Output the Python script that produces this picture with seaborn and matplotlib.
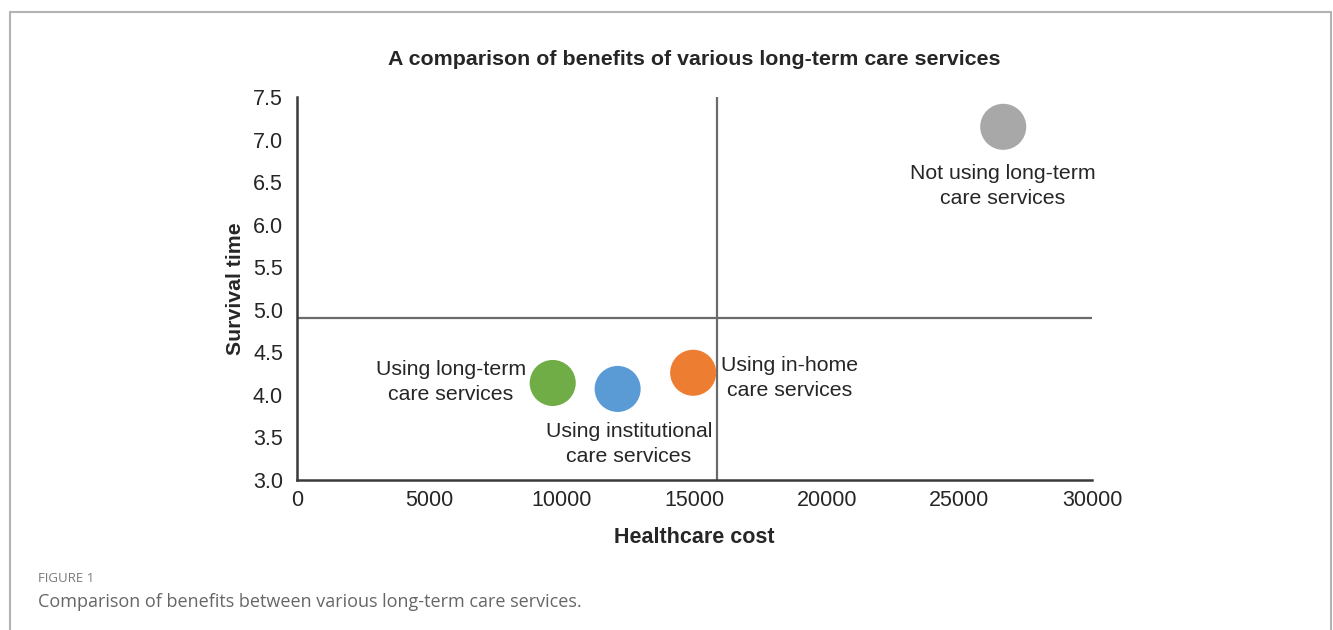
import matplotlib
matplotlib.use("Agg")
import matplotlib.pyplot as plt
import seaborn as sns
import pandas as pd
from matplotlib.lines import Line2D

# ---- data ----
services = ["Not using long-term care services",
            "Using long-term care services",
            "Using institutional care services",
            "Using in-home care services"]
healthcare_cost = [26650, 9650, 12100, 14950]
survival_time = [7.15, 4.14, 4.07, 4.26]
colors = ["#A8A8A8", "#70AD47", "#5B9BD5", "#ED7D31"]
label_texts = ["Not using long-term\ncare services",
               "Using long-term\ncare services",
               "Using institutional\ncare services",
               "Using in-home\ncare services"]
label_x = [26640, 5800, 12530, 18600]
label_y = [6.45, 4.15, 3.42, 4.2]
ref_cost = 15850
ref_survival = 4.9
x_ticks = [0, 5000, 10000, 15000, 20000, 25000, 30000]
y_ticks = [3.0, 3.5, 4.0, 4.5, 5.0, 5.5, 6.0, 6.5, 7.0, 7.5]

df = pd.DataFrame({"service": services, "cost": healthcare_cost, "survival": survival_time})

sns.set_theme(style="white")
plt.rcParams["font.family"] = ["Liberation Sans", "DejaVu Sans"]

fig = plt.figure(figsize=(13.33, 6.3), dpi=100)
ax = fig.add_axes([0.2228, 0.2381, 0.5964, 0.6079])

# reference lines
ax.axhline(ref_survival, color="#6b6b6b", lw=1.6, zorder=1)
ax.axvline(ref_cost, color="#6b6b6b", lw=1.6, zorder=1)

sns.scatterplot(data=df, x="cost", y="survival", hue="service",
                palette=dict(zip(services, colors)), s=1100,
                edgecolor="none", legend=False, ax=ax, zorder=3)

for t, lx, ly in zip(label_texts, label_x, label_y):
    ax.text(lx, ly, t, ha="center", va="center", multialignment="center",
            fontsize=15.3, color="#262626", linespacing=1.4)

ax.set_xlim(0, 30000)
ax.set_ylim(3.0, 7.5)
ax.set_xticks(x_ticks)
ax.set_xticklabels([str(v) for v in x_ticks])
ax.set_yticks(y_ticks)
ax.set_yticklabels([f"{v:.1f}" for v in y_ticks])
ax.tick_params(axis="both", length=0, labelsize=15.5, colors="#262626")
ax.tick_params(axis="y", pad=10)
ax.tick_params(axis="x", pad=7)

for side in ["top", "right"]:
    ax.spines[side].set_visible(False)
for side in ["left", "bottom"]:
    ax.spines[side].set_color("#3a3a3a")
    ax.spines[side].set_linewidth(1.8)

ax.set_xlabel("Healthcare cost", fontsize=15.5, fontweight="bold", color="#262626", labelpad=12)
ax.set_ylabel("Survival time", fontsize=15.3, fontweight="bold", color="#262626", labelpad=6)

fig.text(0.5206, 0.905, "A comparison of benefits of various long-term care services",
         ha="center", va="center", fontsize=15.4, fontweight="bold", color="#262626")

# frame
fig.add_artist(Line2D([0.0075, 0.9985], [0.981, 0.981], transform=fig.transFigure,
                      color="#b3b3b3", lw=1.5))
fig.add_artist(Line2D([0.0075, 0.0075], [0.0, 0.981], transform=fig.transFigure,
                      color="#b3b3b3", lw=1.5))
fig.add_artist(Line2D([0.9985, 0.9985], [0.0, 0.981], transform=fig.transFigure,
                      color="#b3b3b3", lw=1.5))

# caption
fig.text(38 / 1333, 1 - 578 / 630, "FIGURE 1", ha="left", va="center",
         fontsize=9.5, color="#7a7a7a", family=["Open Sans", "DejaVu Sans"])
fig.text(38 / 1333, 1 - 602 / 630, "Comparison of benefits between various long-term care services.",
         ha="left", va="center", fontsize=13, color="#666666",
         family=["Open Sans", "DejaVu Sans"])

fig.savefig("out.png", dpi=100)
